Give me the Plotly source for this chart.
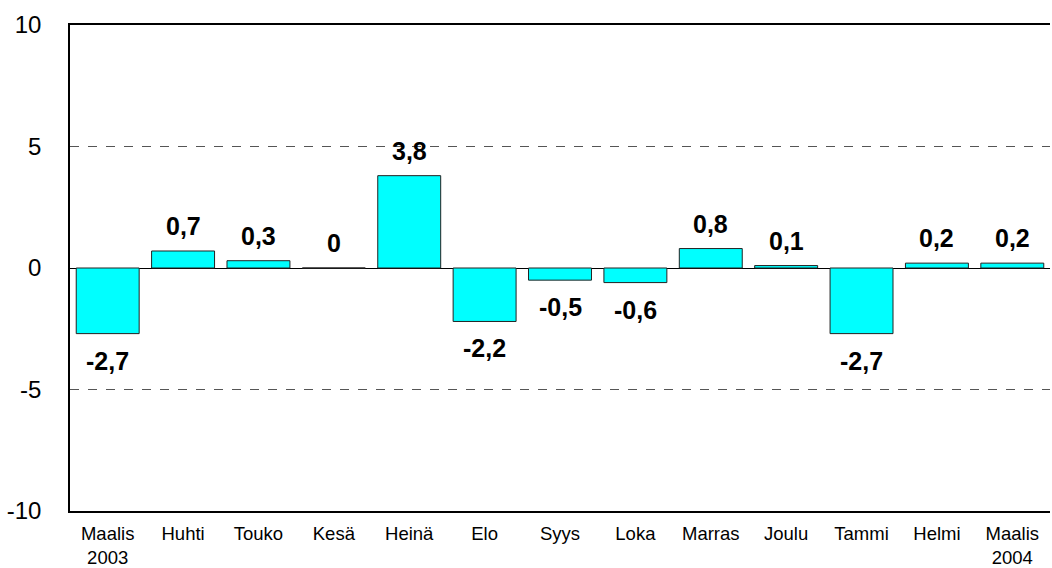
import plotly.graph_objects as go

categories = ["Maalis<br>2003", "Huhti", "Touko", "Kesä", "Heinä", "Elo", "Syys",
              "Loka", "Marras", "Joulu", "Tammi", "Helmi", "Maalis<br>2004"]
values = [-2.7, 0.7, 0.3, 0.0, 3.8, -2.2, -0.5, -0.6, 0.8, 0.1, -2.7, 0.2, 0.2]
labels = ["0" if v == 0 else f"{v:.1f}".replace(".", ",") for v in values]
y_ticks = [-10, -5, 0, 5, 10]

fig = go.Figure(go.Bar(
    x=categories, y=values,
    marker=dict(color="#00FFFF", line=dict(color="#222222", width=1)),
    cliponaxis=False, hoverinfo="x+y",
))

for c, v, t in zip(categories, values, labels):
    fig.add_annotation(
        x=c, y=v, text=f"<b>{t}</b>", showarrow=False,
        yanchor="bottom" if v >= 0 else "top",
        yshift=9 if v >= 0 else -11,
        font=dict(family="Arial, Liberation Sans", size=25, color="black"),
    )

fig.update_layout(
    width=1052, height=568,
    margin=dict(l=70, r=2, t=25, b=57, autoexpand=False),
    paper_bgcolor="white", plot_bgcolor="white",
    bargap=0.165, showlegend=False,
    font=dict(family="Arial, Liberation Sans", color="black"),
)
fig.update_xaxes(
    showline=True, linecolor="black", linewidth=1.5, mirror=True,
    tickfont=dict(size=18.5), ticks="", showgrid=False, automargin=False,
    ticklabelstandoff=5,
)
fig.update_yaxes(
    range=[-10, 10], tickvals=y_ticks, ticktext=[str(t) for t in y_ticks],
    showline=True, linecolor="black", linewidth=1.5,
    showgrid=True, gridcolor="#555555", griddash="dash", gridwidth=1,
    zeroline=True, zerolinecolor="black", zerolinewidth=1.2,
    tickfont=dict(size=24), ticks="", ticklabelstandoff=22, automargin=False,
)

fig.write_html(
    "out.html",
    config={"displayModeBar": False},
    post_script="document.body.style.margin='0';document.body.style.overflow='hidden';",
)
